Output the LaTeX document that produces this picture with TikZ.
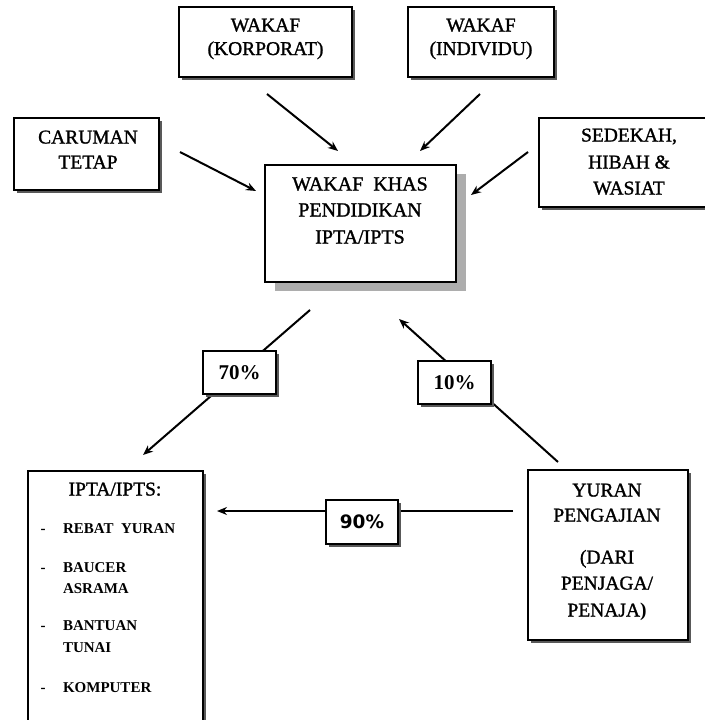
\documentclass[tikz,border=0pt]{standalone}
\usepackage{fontspec}
\setmainfont{Liberation Serif}
\newfontfamily\myDejavu{DejaVu Sans}
\newfontfamily\myHeavy[FakeBold=1.3]{Liberation Serif}
\usetikzlibrary{arrows.meta,shadows}
\newcommand\myMain{\myHeavy\fontsize{19.5}{24}\selectfont}
\newcommand\myCen{\myHeavy\fontsize{20}{24}\selectfont}
\newcommand\myList{\fontsize{15}{18}\selectfont\bfseries}
\newcommand\myPct{\fontsize{21}{24}\selectfont\bfseries}
\newcommand\myNine{\fontsize{18.5}{22}\selectfont\bfseries\myDejavu}
\tikzset{
  box/.style={draw=black, line width=1.2pt, fill=white, inner sep=0pt, outer sep=0pt,
    anchor=north west,
    drop shadow={shadow xshift=3pt, shadow yshift=-3pt, fill=black!65, opacity=1}},
  bigbox/.style={draw=black, line width=1.2pt, fill=white, inner sep=0pt, outer sep=0pt,
    anchor=north west,
    drop shadow={shadow xshift=10pt, shadow yshift=-9pt, fill=black!32, opacity=1}},
  txt/.style={anchor=base, inner sep=0pt, outer sep=0pt},
  pct/.style={draw=black, line width=1.2pt, fill=white, inner sep=0pt, outer sep=0pt,
    drop shadow={shadow xshift=3pt, shadow yshift=-3pt, fill=black!65, opacity=1}},
  arr/.style={line width=2pt, -{Stealth[length=10pt,width=8pt]}},
}
\begin{document}
\begin{tikzpicture}[x=1pt,y=-1pt]
\useasboundingbox (0,0) rectangle (704,720);
\fill[white] (0,0) rectangle (704,720);

% connector end points
\coordinate (k1) at (267,94);   \coordinate (k2) at (338,151);
\coordinate (i1) at (480,94);   \coordinate (i2) at (420,151);
\coordinate (c1) at (180,152);  \coordinate (c2) at (256,191);
\coordinate (s1) at (528,152);  \coordinate (s2) at (471,195);
\coordinate (p1) at (310,310);  \coordinate (p2) at (143,455);
\coordinate (q1) at (558,462);  \coordinate (q2) at (399,319);
\coordinate (r1) at (513,511);  \coordinate (r2) at (217,511);

\draw[arr] (k1) -- (k2);
\draw[arr] (i1) -- (i2);
\draw[arr] (c1) -- (c2);
\draw[arr] (s1) -- (s2);
\draw[arr] (p1) -- (p2);
\draw[arr] (q1) -- (q2);
\draw[arr] (r1) -- (r2);

% boxes
\node[box, minimum width=173pt, minimum height=70pt] (korp) at (179,7) {};
\node[box, minimum width=146pt, minimum height=70pt] (indiv) at (408,7) {};
\node[box, minimum width=145pt, minimum height=72pt] (car) at (14,118) {};
\node[bigbox, minimum width=191pt, minimum height=117pt] (cen) at (265,165) {};
\node[box, minimum width=171pt, minimum height=89pt] (sed) at (539,118) {};
\node[box, minimum width=160pt, minimum height=170pt] (yur) at (528,470) {};
\node[box, minimum width=175pt, minimum height=262pt] (ipta) at (28,471) {};

% percentage labels
\node[pct, minimum width=73pt, minimum height=43pt, font=\myPct] (l70) at (239.5,372.5) {70\%};
\node[pct, minimum width=73pt, minimum height=43pt, font=\myPct] (l10) at (454.5,382.5) {10\%};
\node[pct, minimum width=72pt, minimum height=44pt, font=\myNine] (l90) at (362,522) {90\%};

% texts
\node[txt, font=\myMain] (korpA) at (265.5,31.5) {WAKAF};
\node[txt, font=\myMain] (korpB) at (265.5,55) {(KORPORAT)};
\node[txt, font=\myMain] (indivA) at (481,31.5) {WAKAF};
\node[txt, font=\myMain] (indivB) at (481,55) {(INDIVIDU)};
\node[txt, font=\myMain] (carA) at (88,143.5) {CARUMAN};
\node[txt, font=\myMain] (carB) at (88,168.5) {TETAP};
\node[txt, font=\myCen] (cenA) at (360,190.5) {WAKAF\ \ KHAS};
\node[txt, font=\myCen] (cenB) at (360,216.5) {PENDIDIKAN};
\node[txt, font=\myCen] (cenC) at (360,243.5) {IPTA/IPTS};
\node[txt, font=\myMain] (sedA) at (629,141.5) {SEDEKAH,};
\node[txt, font=\myMain] (sedB) at (629,168.5) {HIBAH \&};
\node[txt, font=\myMain] (sedC) at (629,194.5) {WASIAT};
\node[txt, font=\myMain] (yurA) at (607,496.5) {YURAN};
\node[txt, font=\myMain] (yurB) at (607,521.5) {PENGAJIAN};
\node[txt, font=\myMain] (yurC) at (607,563.5) {(DARI};
\node[txt, font=\myMain] (yurD) at (607,589.5) {PENJAGA/};
\node[txt, font=\myMain] (yurE) at (607,616.5) {PENAJA{\normalfont\bfseries )}};
\node[txt, font=\myMain] (iptaH) at (115,495.5) {IPTA/IPTS:};

\node[txt, font=\myList] (d1) at (43,533.5) {-};
\node[txt, font=\myList, anchor=base west] (e1) at (63,533.5) {REBAT\ \ YURAN};
\node[txt, font=\myList] (d2) at (43,572) {-};
\node[txt, font=\myList, anchor=base west] (e2) at (63,572) {BAUCER};
\node[txt, font=\myList, anchor=base west] (e2b) at (63,593.5) {ASRAMA};
\node[txt, font=\myList] (d3) at (43,630.5) {-};
\node[txt, font=\myList, anchor=base west] (e3) at (63,630.5) {BANTUAN};
\node[txt, font=\myList, anchor=base west] (e3b) at (63,652.5) {TUNAI};
\node[txt, font=\myList] (d4) at (43,692) {-};
\node[txt, font=\myList, anchor=base west] (e4) at (63,692) {KOMPUTER};
\end{tikzpicture}
\end{document}
